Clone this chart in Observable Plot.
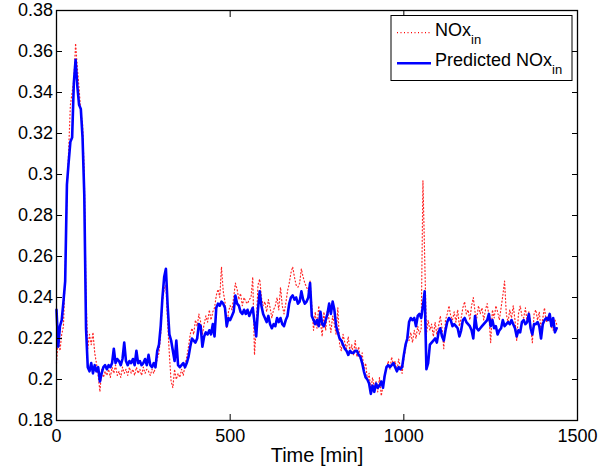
<!DOCTYPE html>
<html>
<head>
<meta charset="utf-8">
<script src="https://cdn.jsdelivr.net/npm/d3@7"></script>
<script src="https://cdn.jsdelivr.net/npm/@observablehq/plot@0.6"></script>
<style>
  html, body { margin: 0; padding: 0; background: #fff; }
  #chart svg { display: block; }
</style>
</head>
<body>
<div id="chart"></div>
<script>
// Time axis (minutes)
const time = [
  0,5,10,15,20,25,30,35,40,45,
  50,55,60,65,70,75,80,85,90,95,
  100,105,110,115,120,125,130,135,140,145,
  150,155,160,165,170,175,180,185,190,195,
  200,205,210,215,220,225,230,235,240,245,
  250,255,260,265,270,275,280,285,290,295,
  300,305,310,315,320,325,330,335,340,345,
  350,355,360,365,370,375,380,385,390,395,
  400,405,410,415,420,425,430,435,440,445,
  450,455,460,465,470,475,480,485,490,495,
  500,505,510,515,520,525,530,535,540,545,
  550,555,560,565,570,575,580,585,590,595,
  600,605,610,615,620,625,630,635,640,645,
  650,655,660,665,670,675,680,685,690,695,
  700,705,710,715,720,725,730,735,740,745,
  750,755,760,765,770,775,780,785,790,795,
  800,805,810,815,820,825,830,835,840,845,
  850,855,860,865,870,875,880,885,890,895,
  900,905,910,915,920,925,930,935,940,945,
  950,955,960,965,970,975,980,985,990,995,
  1000,1005,1010,1015,1020,1025,1030,1035,1040,1045,
  1050,1055,1060,1065,1070,1075,1080,1085,1090,1095,
  1100,1105,1110,1115,1120,1125,1130,1135,1140,1145,
  1150,1155,1160,1165,1170,1175,1180,1185,1190,1195,
  1200,1205,1210,1215,1220,1225,1230,1235,1240,1245,
  1250,1255,1260,1265,1270,1275,1280,1285,1290,1295,
  1300,1305,1310,1315,1320,1325,1330,1335,1340,1345,
  1350,1355,1360,1365,1370,1375,1380,1385,1390,1395,
  1400,1405,1410,1415,1420,1425,1430,1435,1440
];

// Measured NOx_in (red dotted)
const measured = [
  0.208,0.220,0.214,0.222,0.226,0.252,0.290,0.312,0.334,0.340,
  0.346,0.364,0.352,0.342,0.330,0.325,0.300,0.240,0.215,0.222,
  0.217,0.223,0.213,0.208,0.202,0.194,0.205,0.201,0.204,0.202,
  0.205,0.201,0.206,0.203,0.207,0.202,0.204,0.201,0.206,0.203,
  0.205,0.202,0.206,0.203,0.205,0.202,0.206,0.203,0.205,0.202,
  0.206,0.203,0.205,0.204,0.202,0.205,0.203,0.206,0.210,0.213,
  0.222,0.238,0.244,0.246,0.228,0.212,0.199,0.196,0.205,0.200,
  0.203,0.201,0.205,0.202,0.207,0.211,0.216,0.222,0.225,0.222,
  0.229,0.226,0.232,0.228,0.222,0.227,0.231,0.228,0.234,0.229,
  0.233,0.235,0.241,0.244,0.240,0.255,0.243,0.238,0.225,0.233,
  0.236,0.234,0.240,0.247,0.244,0.239,0.242,0.236,0.240,0.238,
  0.237,0.239,0.240,0.250,0.212,0.226,0.246,0.249,0.240,0.236,
  0.238,0.233,0.239,0.235,0.230,0.234,0.236,0.240,0.234,0.245,
  0.236,0.232,0.237,0.243,0.247,0.252,0.255,0.250,0.246,0.245,
  0.247,0.254,0.250,0.247,0.245,0.243,0.248,0.236,0.224,0.233,
  0.225,0.236,0.228,0.221,0.233,0.224,0.234,0.229,0.223,0.231,
  0.227,0.222,0.235,0.217,0.214,0.222,0.218,0.215,0.221,0.213,
  0.217,0.212,0.219,0.211,0.216,0.210,0.213,0.205,0.208,0.200,
  0.203,0.195,0.201,0.196,0.199,0.194,0.201,0.192,0.197,0.203,
  0.205,0.209,0.205,0.211,0.207,0.209,0.204,0.210,0.206,0.203,
  0.210,0.215,0.221,0.219,0.223,0.218,0.224,0.220,0.226,0.222,
  0.225,0.297,0.260,0.222,0.229,0.224,0.227,0.221,0.228,0.222,
  0.226,0.231,0.225,0.215,0.229,0.232,0.236,0.231,0.229,0.233,
  0.228,0.234,0.226,0.230,0.235,0.238,0.232,0.234,0.229,0.236,
  0.240,0.233,0.230,0.236,0.232,0.235,0.229,0.234,0.237,0.231,
  0.218,0.234,0.230,0.236,0.233,0.229,0.235,0.241,0.248,0.232,
  0.228,0.234,0.230,0.236,0.229,0.219,0.232,0.236,0.231,0.230,
  0.235,0.228,0.233,0.226,0.218,0.232,0.234,0.229,0.233,0.224,
  0.230,0.235,0.228,0.231,0.229,0.226,0.224,0.229,0.227
];

// Predicted NOx_in (blue solid)
const predicted = [
  0.234,0.216,0.226,0.229,0.238,0.248,0.295,0.306,0.316,0.318,
  0.345,0.356,0.343,0.334,0.332,0.318,0.290,0.225,0.206,0.204,
  0.208,0.203,0.207,0.204,0.206,0.199,0.203,0.206,0.207,0.205,
  0.207,0.206,0.208,0.215,0.208,0.210,0.209,0.207,0.210,0.218,
  0.209,0.207,0.209,0.208,0.210,0.207,0.214,0.208,0.209,0.207,
  0.208,0.210,0.207,0.212,0.207,0.206,0.208,0.206,0.214,0.217,
  0.226,0.240,0.250,0.254,0.236,0.222,0.219,0.214,0.209,0.219,
  0.207,0.206,0.207,0.208,0.206,0.208,0.211,0.216,0.220,0.219,
  0.218,0.220,0.227,0.226,0.216,0.221,0.223,0.222,0.224,0.222,
  0.227,0.221,0.235,0.237,0.236,0.238,0.237,0.235,0.226,0.230,
  0.229,0.231,0.233,0.241,0.237,0.236,0.233,0.232,0.234,0.232,
  0.234,0.231,0.233,0.235,0.228,0.221,0.234,0.243,0.236,0.232,
  0.230,0.228,0.231,0.227,0.225,0.227,0.226,0.230,0.228,0.230,
  0.227,0.226,0.229,0.231,0.237,0.240,0.241,0.239,0.240,0.237,
  0.238,0.243,0.239,0.237,0.238,0.240,0.247,0.231,0.229,0.227,
  0.229,0.226,0.233,0.227,0.226,0.229,0.232,0.237,0.232,0.238,
  0.234,0.226,0.223,0.220,0.219,0.217,0.215,0.214,0.212,0.214,
  0.213,0.213,0.214,0.214,0.212,0.211,0.208,0.204,0.201,0.200,
  0.198,0.193,0.197,0.194,0.198,0.196,0.197,0.199,0.196,0.202,
  0.206,0.207,0.206,0.207,0.208,0.206,0.204,0.206,0.205,0.206,
  0.212,0.217,0.220,0.228,0.230,0.229,0.230,0.226,0.231,0.232,
  0.230,0.236,0.243,0.205,0.208,0.217,0.218,0.219,0.220,0.218,
  0.223,0.225,0.221,0.219,0.224,0.228,0.230,0.229,0.226,0.227,
  0.226,0.225,0.221,0.224,0.229,0.230,0.228,0.227,0.226,0.224,
  0.220,0.231,0.225,0.224,0.225,0.226,0.227,0.228,0.229,0.232,
  0.226,0.229,0.225,0.226,0.222,0.224,0.225,0.229,0.226,0.227,
  0.228,0.227,0.229,0.227,0.225,0.221,0.224,0.223,0.228,0.229,
  0.227,0.228,0.232,0.225,0.222,0.227,0.227,0.228,0.226,0.220,
  0.227,0.229,0.230,0.229,0.232,0.226,0.230,0.223,0.225
];

const xTicks = [0, 500, 1000, 1500];
const yTicks = [0.18, 0.2, 0.22, 0.24, 0.26, 0.28, 0.3, 0.32, 0.34, 0.36, 0.38];
const xLabel = "Time [min]";
const seriesNames = ["NOx", "Predicted NOx"];
const seriesSub = "in";
const seriesColors = ["#ff0000", "#0000ff"];

const font = "'Liberation Sans', Arial, Helvetica, sans-serif";
const yFmt = d => String(+d.toFixed(2));

const chart = Plot.plot({
  width: 614,
  height: 468,
  marginLeft: 56,
  marginRight: 37,
  marginTop: 10,
  marginBottom: 48,
  style: { fontFamily: font, fontSize: "18px", background: "#fff", color: "#000", overflow: "visible" },
  x: { domain: [0, 1500] },
  y: { domain: [0.18, 0.38] },
  marks: [
    Plot.line(time, { x: time, y: measured, stroke: seriesColors[0], strokeWidth: 1.2, strokeDasharray: "1,2.5", strokeOpacity: 0.85 }),
    Plot.line(time, { x: time, y: predicted, stroke: seriesColors[1], strokeWidth: 2.6, strokeLinejoin: "round" }),
    Plot.frame({ stroke: "#000", strokeWidth: 1.3 }),
    Plot.axisX({ anchor: "bottom", ticks: xTicks, tickSize: -6, tickPadding: 15, tickFormat: d => String(d), label: null, fontSize: 18 }),
    Plot.axisX({ anchor: "top", ticks: xTicks, tickSize: -6, tickFormat: () => "", label: null }),
    Plot.axisY({ anchor: "left", ticks: yTicks, tickSize: -6, tickPadding: 9.5, tickFormat: yFmt, label: null, fontSize: 18 }),
    Plot.axisY({ anchor: "right", ticks: yTicks, tickSize: -6, tickFormat: () => "", label: null }),
    Plot.text([xLabel], { text: d => d, frameAnchor: "bottom", dy: 35, fontSize: 20, lineAnchor: "middle" })
  ]
});

document.getElementById("chart").appendChild(chart);

// Legend inside the axes (top-right), MATLAB style
const svg = d3.select(chart);
const lg = svg.append("g").attr("font-family", font).attr("fill", "#000").attr("text-anchor", "start");
lg.append("rect").attr("x", 391).attr("y", 15.5).attr("width", 181).attr("height", 65)
  .attr("fill", "#fff").attr("stroke", "#000").attr("stroke-width", 1);
const rows = [
  { y: 32.7, base: 36, style: { w: 1.2, dash: "1,2.5" } },
  { y: 63.3, base: 66, style: { w: 2.6, dash: null } }
];
rows.forEach((r, i) => {
  const ln = lg.append("line").attr("x1", 397).attr("x2", 431).attr("y1", r.y).attr("y2", r.y)
    .attr("stroke", seriesColors[i]).attr("stroke-width", r.style.w);
  if (r.style.dash) ln.attr("stroke-dasharray", r.style.dash);
  const t = lg.append("text").attr("x", 435).attr("y", r.base).attr("font-size", 18).attr("text-anchor", "start");
  t.append("tspan").text(seriesNames[i]);
  t.append("tspan").attr("dy", 8).attr("font-size", 13).text(seriesSub);
});
</script>
</body>
</html>
